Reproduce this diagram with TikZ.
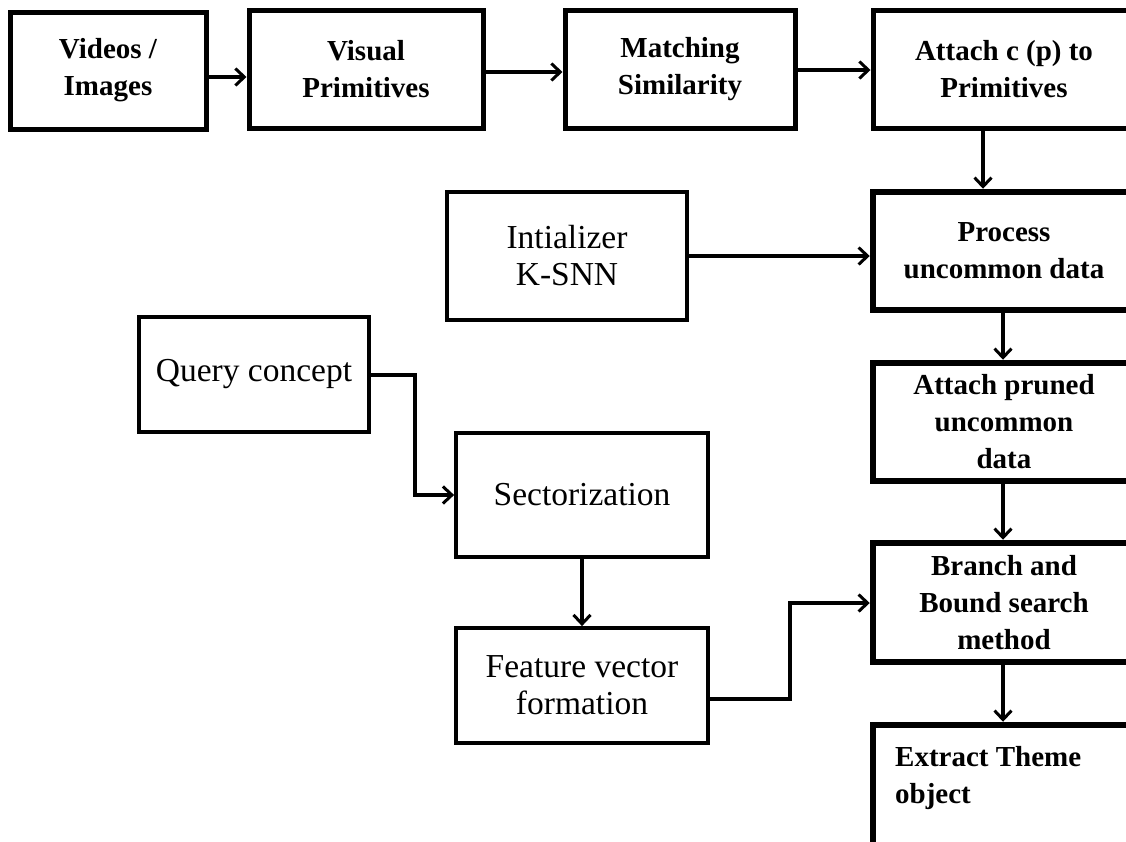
\documentclass[tikz,border=0pt]{standalone}
\usepackage{fontspec}
\setmainfont{Liberation Serif}
\usetikzlibrary{arrows.meta}
\begin{document}
\begin{tikzpicture}[x=1pt,y=-1pt,
  boxb/.style={draw, line width=5pt, rectangle, font=\fontsize{29}{37}\selectfont\bfseries, align=center, inner sep=0pt},
  boxc/.style={boxb, line width=6.5pt},
  boxr/.style={draw, line width=3.8pt, rectangle, font=\fontsize{33.5}{37}\selectfont, align=center, inner sep=0pt},
  txtb/.style={font=\fontsize{29}{37}\selectfont\bfseries, align=left, inner sep=0pt},
  arr/.style={line width=4pt, -{Straight Barb[length=9pt,width=17pt,line width=3pt]}},
  ]
\useasboundingbox (0,0) rectangle (1126,841);
\clip (0,0) rectangle (1126,841);
\fill[white] (0,0) rectangle (1126,841);

% top row
\node[boxb, minimum width=196pt, minimum height=117pt] (vid) at (108,70.5) {Videos /\\Images};
\node[boxb, minimum width=234pt, minimum height=118pt] (vis) at (366,69) {Visual\\Primitives};
\node[boxb, minimum width=230pt, minimum height=118pt] (match) at (680,69) {Matching\\Similarity};
\node[boxb, minimum width=262pt, minimum height=118pt] (att) at (1004,69) {Attach c (p) to\\Primitives};

% right column
\node[boxc, minimum width=262pt, minimum height=118pt] (proc) at (1004,251) {Process\\uncommon data};
\node[boxc, minimum width=262pt, minimum height=118pt] (prun) at (1004,422) {Attach pruned\\uncommon\\data};
\node[boxc, minimum width=262pt, minimum height=119pt] (bran) at (1004,602.5) {Branch and\\Bound search\\method};
\node[boxc, minimum width=262pt, minimum height=155pt] (ext) at (1004,802.5) {};
\node[txtb, anchor=west] (exttxt) at (895,778) {Extract Theme\\object};

% left / middle boxes
\node[boxr, minimum width=240pt, minimum height=128pt] (init) at (567,256) {Intializer\\K-SNN};
\node[boxr, minimum width=230pt, minimum height=115pt] (query) at (254,374.5) {Query concept};
\node[boxr, minimum width=252pt, minimum height=124pt] (sect) at (582,495) {Sectorization};
\node[boxr, minimum width=252pt, minimum height=115pt] (feat) at (582,685.5) {Feature vector\\formation};

% connectors
\draw[arr] (vid.east |- 0,77) -- (vis.west |- 0,77);
\draw[arr] (vis.east |- 0,72) -- (match.west |- 0,72);
\draw[arr] (match.east |- 0,70) -- (att.west |- 0,70);
\draw[arr] (att.south -| 983,0) -- (proc.north -| 983,0);
\draw[arr] (init.east) -- (proc.west |- init.east);
\draw[arr] (proc.south -| 1003,0) -- (prun.north -| 1003,0);
\draw[arr] (prun.south -| 1003,0) -- (bran.north -| 1003,0);
\draw[arr] (bran.south -| 1003,0) -- (ext.north -| 1003,0);
\draw[arr] (query.east) -- ++(44,0) |- (sect.west);
\draw[arr] (sect.south) -- (feat.north);
\draw[arr] (feat.east |- 0,699) -| (790,603) -- (bran.west |- 0,603);
\end{tikzpicture}
\end{document}
